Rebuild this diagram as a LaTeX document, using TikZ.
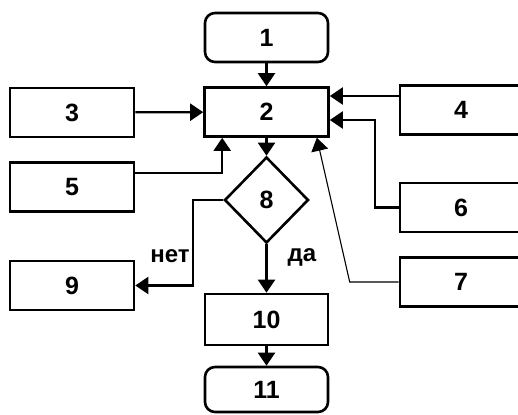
\documentclass[tikz,border=0pt]{standalone}
\usepackage{fontspec}
\setmainfont{Liberation Sans}
\usetikzlibrary{arrows.meta,calc,shapes.geometric}
\begin{document}
\begin{tikzpicture}[x=1pt,y=-1pt,
  blk/.style={draw, line width=2.6pt, minimum width=124pt, minimum height=49pt, inner sep=0pt,
    font=\fontsize{25}{28}\selectfont\bfseries},
  rblk/.style={blk, rounded corners=10pt},
  dia/.style={draw, diamond, line width=2.6pt, minimum width=84pt, minimum height=86pt, inner sep=0pt,
    font=\fontsize{25}{28}\selectfont\bfseries},
  conn/.style={line width=2.2pt, -{Triangle[length=13pt,width=17pt]}},
  thin/.style={line width=1.1pt, -{Triangle[length=13pt,width=17pt]}},
  lbl/.style={font=\fontsize{24}{27}\selectfont\bfseries, inner sep=0pt}]
\useasboundingbox (0,0) rectangle (518,414);
\clip (0,0) rectangle (518,414);
\node[rblk, minimum width=123pt] (n1) at (266.5,37.5) {1};
\node[blk] (n2) at (266.5,112) {2};
\node[blk] (n3) at (72,112.5) {3};
\node[blk] (n5) at (72,187) {5};
\node[blk, minimum width=122pt] (n4) at (461,110) {4};
\node[blk, minimum width=122pt] (n6) at (461,207.5) {6};
\node[blk, minimum width=122pt] (n7) at (461,282) {7};
\node[blk] (n9) at (72,285.5) {9};
\node[dia] (n8) at (266.5,200) {8};
\node[blk, minimum width=123pt, minimum height=51pt] (n10) at (266.5,319.5) {10};
\node[rblk, minimum width=123pt, minimum height=45pt] (n11) at (266.5,389.5) {11};
\node[lbl] (net) at (170,256) {нет};
\node[lbl] (da) at (302,257) {да};
% connectors
\draw[conn] (n1) -- (n2);
\draw[conn] (n3) -- (n2);
\coordinate (a4) at ($(n4.west)+(0,-14)$);
\draw[conn] (a4) -- (a4 -| n2.east);
\draw[conn] (n6.west) -- ++(-24,0) |- ($(n2.east)+(0,8)$);
\draw[thin] (n7.west) -- ++(-49,0) -- ($(n2.south east)+(-13,0)$);
\draw[conn] ($(n5.east)+(0,-14)$) -| ($(n2.south west)+(19,0)$);
\draw[conn] (n2) -- (n8);
\draw[conn] (n8.west) -- ++(-30,0) |- (n9.east);
\draw[conn] (n8.south) -- (n10.north);
\draw[conn] (n10) -- (n11);
\end{tikzpicture}
\end{document}
